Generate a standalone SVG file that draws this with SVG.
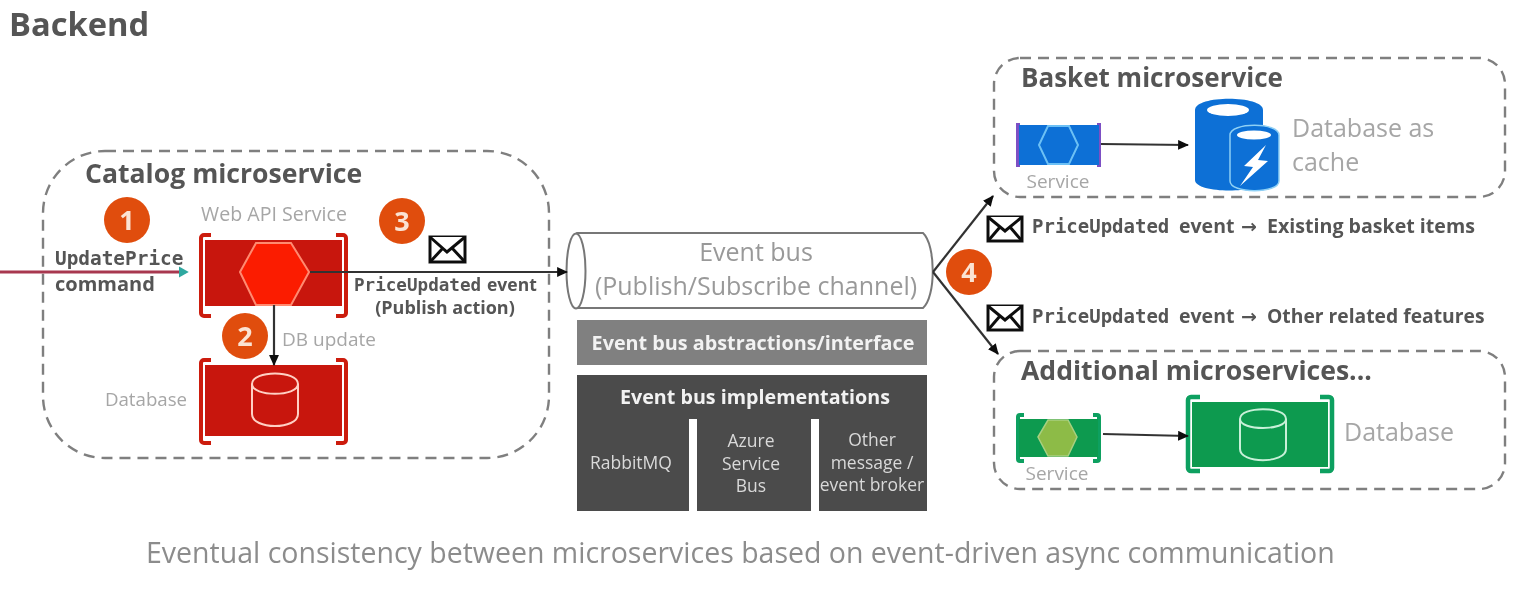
<svg xmlns="http://www.w3.org/2000/svg" width="1530" height="589" viewBox="0 0 1530 589">
<style>
text{font-family:"Open Sans","Liberation Sans",sans-serif}
.h{font-weight:700;fill:#555}
.l{fill:#a6a6a6}
.m{font-family:"DejaVu Sans Mono","Liberation Mono",monospace;font-weight:700;fill:#555}
.b{font-weight:700;fill:#555}
.w{font-weight:700;fill:#f2f2f2}
.s{fill:#d9d9d9}
.box{fill:none;stroke:#7f7f7f;stroke-width:2.4;stroke-dasharray:11 7}
.num{font-weight:700;fill:#fbe3d3;font-size:27px;text-anchor:middle}
.bd{fill:#e04e0e}
.c{stroke:#333;stroke-width:2.2;fill:none}
.env{fill:#fff;stroke:#111;stroke-width:3}
.gl{fill:none;stroke:#ffd0c4;stroke-width:2}
.arw{font-family:"DejaVu Sans",sans-serif;font-weight:700;fill:#555}
</style>
<defs>
<marker id="ah" markerWidth="11" markerHeight="10" refX="9" refY="4.500" orient="auto" markerUnits="userSpaceOnUse" viewBox="0 0 10 9"><path d="M0 0L10 4.500L0 9z" fill="#111"/></marker>
<marker id="at" markerWidth="10" markerHeight="12" refX="2" refY="5" orient="auto" markerUnits="userSpaceOnUse" viewBox="0 0 9 10"><path d="M0 0L9 5L0 10z" fill="#2fa8a0"/></marker>
<filter id="soft" x="-2%" y="-2%" width="104%" height="104%"><feGaussianBlur stdDeviation="0.7"/></filter>
</defs>
<g filter="url(#soft)">
<text id="title" class="h" x="9" y="36" font-size="32.700">Backend</text>

<g id="catalog">
<rect class="box" x="43" y="151" width="506" height="307" rx="62"/>
<text class="h" x="85" y="183" font-size="26.600">Catalog microservice</text>
</g>
<g id="web-api">
<text class="l" x="274" y="221" font-size="19.600" text-anchor="middle">Web API Service</text>
<path d="M211 235h-7a3 3 0 0 0-3 3v75a3 3 0 0 0 3 3h7M336 235h7a3 3 0 0 1 3 3v75a3 3 0 0 1-3 3h-7" fill="none" stroke="#cc1a10" stroke-width="4"/>
<rect x="205" y="240" width="137" height="66" fill="#c8170c"/>
<polygon points="240,272 256,243 291,243 309,272 291,305 256,305" fill="#fb1a05" stroke="#ff8a70" stroke-width="2"/>
</g>
<g id="database">
<text class="l" x="146" y="406" font-size="18.700" text-anchor="middle">Database</text>
<path d="M211 360h-7a3 3 0 0 0-3 3v77a3 3 0 0 0 3 3h7M336 360h7a3 3 0 0 1 3 3v77a3 3 0 0 1-3 3h-7" fill="none" stroke="#cc1a10" stroke-width="4"/>
<rect x="205" y="365" width="137" height="71" fill="#c8170c"/>
<path class="gl" d="M252 384v30c0 16 46 16 46 0v-30M252 384c0-14 46-14 46 0c0 13-46 13-46 0z"/>
</g>
<g id="step-1"><circle class="bd" cx="127" cy="220" r="23"/><text class="num" x="127" y="230">1</text></g>
<g id="step-2"><circle class="bd" cx="245" cy="336" r="23"/><text class="num" x="245" y="346">2</text></g>
<g id="step-3"><circle class="bd" cx="402" cy="221" r="23"/><text class="num" x="402" y="231">3</text></g>
<g id="step-4"><circle class="bd" cx="969" cy="272" r="23"/><text class="num" x="969" y="282">4</text></g>

<g id="event-bus">
<path d="M577 233H923C936 245 936 297 923 308H577C564 297 564 245 577 233z" fill="#fff" stroke="#777" stroke-width="2"/>
<ellipse cx="576" cy="271" rx="9.500" ry="37.500" fill="#fff" stroke="#777" stroke-width="2"/>
<text class="l" x="756" y="261" font-size="25" text-anchor="middle" style="fill:#999">Event bus</text>
<text class="l" x="756" y="295" font-size="25" text-anchor="middle" style="fill:#999">(Publish/Subscribe channel)</text>
</g>
<g id="abstractions">
<rect x="577" y="320" width="350" height="45" fill="#808080"/>
<text class="w" x="753" y="350" font-size="19.800" text-anchor="middle">Event bus abstractions/interface</text>
</g>
<g id="implementations">
<rect x="577" y="375" width="350" height="136" fill="#4b4b4b"/>
<rect x="689" y="419" width="8" height="92" fill="#fff"/>
<rect x="811" y="419" width="8" height="92" fill="#fff"/>
<text class="w" x="755" y="404" font-size="19.700" text-anchor="middle">Event bus implementations</text>
<text class="s" x="631" y="469" font-size="17.500" text-anchor="middle">RabbitMQ</text>
<text class="s" x="751" y="447" font-size="17.500" text-anchor="middle">Azure</text>
<text class="s" x="751" y="470" font-size="17.500" text-anchor="middle">Service</text>
<text class="s" x="751" y="492" font-size="17.500" text-anchor="middle">Bus</text>
<text class="s" x="872" y="446" font-size="17.500" text-anchor="middle">Other</text>
<text class="s" x="872" y="469" font-size="17.500" text-anchor="middle">message /</text>
<text class="s" x="872" y="491" font-size="17.500" text-anchor="middle">event broker</text>
</g>

<g id="basket">
<rect class="box" x="994" y="58" width="511" height="139" rx="26"/>
<text class="h" x="1021" y="87" font-size="26">Basket microservice</text>
</g>
<g id="basket-service">
<path d="M1018 123v44M1099 123v44" stroke="#7c4fc4" stroke-width="4" fill="none"/>
<rect x="1019" y="125" width="80" height="40" fill="#0a6fd6"/>
<polygon points="1039,145 1048,126 1069,126 1078,145 1069,164 1048,164" fill="#0a6fd6" stroke="#6cc0f5" stroke-width="2"/>
<text class="l" x="1058" y="188" font-size="19" text-anchor="middle">Service</text>
</g>
<g id="basket-cache">
<path d="M1195 110c0-15 68-15 68 0v70c0 14-68 14-68 0z" fill="#0a6fd6"/>
<ellipse cx="1228" cy="110" rx="21" ry="6" fill="#fff"/>
<path d="M1230 135c0-13 49-13 49 0v46c0 13-49 13-49 0z" fill="#0a6fd6" stroke="#8fd0f5" stroke-width="1.500"/>
<ellipse cx="1254" cy="135" rx="17" ry="4.500" fill="#fff"/>
<polygon points="1266,145 1244,166 1253,167 1240,186 1268,161 1258,160" fill="#fff"/>
<text class="l" x="1292" y="137" font-size="25">Database as</text>
<text class="l" x="1292" y="171" font-size="25">cache</text>
</g>

<g id="additional">
<rect class="box" x="994" y="351" width="511" height="138" rx="26"/>
<text class="h" x="1021" y="380" font-size="26.600">Additional microservices...</text>
</g>
<g id="additional-service">
<path d="M1024 415h-4a2 2 0 0 0-2 2v42a2 2 0 0 0 2 2h4M1093 415h4a2 2 0 0 1 2 2v42a2 2 0 0 1-2 2h-4" stroke="#10a060" stroke-width="4" fill="none"/>
<rect x="1019" y="419" width="79" height="38" fill="#0b9a50"/>
<polygon points="1038,437 1048,420 1068,420 1077,437 1068,456 1048,456" fill="#8dbb46" stroke="#a8d080" stroke-width="1.500"/>
<text class="l" x="1057" y="480" font-size="19" text-anchor="middle">Service</text>
</g>
<g id="additional-db">
<path d="M1200 397h-9a3 3 0 0 0-3 3v68a3 3 0 0 0 3 3h9M1320 397h9a3 3 0 0 1 3 3v68a3 3 0 0 1-3 3h-9" stroke="#10a060" stroke-width="4.500" fill="none"/>
<rect x="1192" y="402" width="136" height="65" fill="#0b9a50"/>
<path d="M1240 419v30c0 15 46 15 46 0v-30M1240 419c0-13 46-13 46 0c0 12-46 12-46 0z" fill="none" stroke="#c8f0d8" stroke-width="2"/>
<text class="l" x="1344" y="441" font-size="25">Database</text>
</g>

<g id="connectors">
<path d="M0 272H181" stroke="#a83850" stroke-width="3" fill="none" marker-end="url(#at)"/>
<path class="c" d="M310 272H567" marker-end="url(#ah)"/>
<path class="c" d="M274 305V365" marker-end="url(#ah)"/>
<path class="c" d="M933 272L993 196" marker-end="url(#ah)"/>
<path class="c" d="M933 272L998 354" marker-end="url(#ah)"/>
<path class="c" d="M1101 144L1188 145" marker-end="url(#ah)"/>
<path class="c" d="M1103 434L1188 436" marker-end="url(#ah)"/>
</g>

<g id="label-update-price">
<text class="m" x="55" y="265" font-size="19.400">UpdatePrice</text>
<text class="b" x="55" y="291" font-size="20">command</text>
</g>
<text id="label-db-update" class="l" x="282" y="346" font-size="19">DB update</text>
<g id="label-publish">
<text y="291"><tspan class="m" x="354" font-size="17.600">PriceUpdated</tspan><tspan class="b" x="487" font-size="17.500">event</tspan></text>
<text class="b" x="445" y="314" font-size="18" text-anchor="middle">(Publish action)</text>
</g>
<g id="envelope-publish"><rect class="env" x="430" y="237" width="35" height="25"/><path class="env" d="M430 237L447 252L465 237M430 262L443 248M465 262L452 248" fill="none"/></g>
<g id="envelope-basket"><rect class="env" x="988" y="217" width="34" height="24"/><path class="env" d="M988 217L1005 231L1022 217M988 241L1000 227M1022 241L1010 227" fill="none"/></g>
<g id="envelope-other"><rect class="env" x="988" y="306" width="34" height="24"/><path class="env" d="M988 306L1005 320L1022 306M988 330L1000 316M1022 330L1010 316" fill="none"/></g>
<text id="label-existing" y="233"><tspan class="m" x="1032" font-size="19">PriceUpdated</tspan><tspan class="b" x="1179" font-size="19.500">event</tspan><tspan class="arw" x="1241" font-size="19">→</tspan><tspan class="b" x="1267" font-size="19.600">Existing basket items</tspan></text>
<text id="label-other" y="323"><tspan class="m" x="1032" font-size="19">PriceUpdated</tspan><tspan class="b" x="1179" font-size="19.500">event</tspan><tspan class="arw" x="1241" font-size="19">→</tspan><tspan class="b" x="1267" font-size="19.300">Other related features</tspan></text>
<text id="caption" x="146" y="563" font-size="28.500" style="fill:#8c8c8c">Eventual consistency between microservices based on event-driven async communication</text>
</g>
</svg>
